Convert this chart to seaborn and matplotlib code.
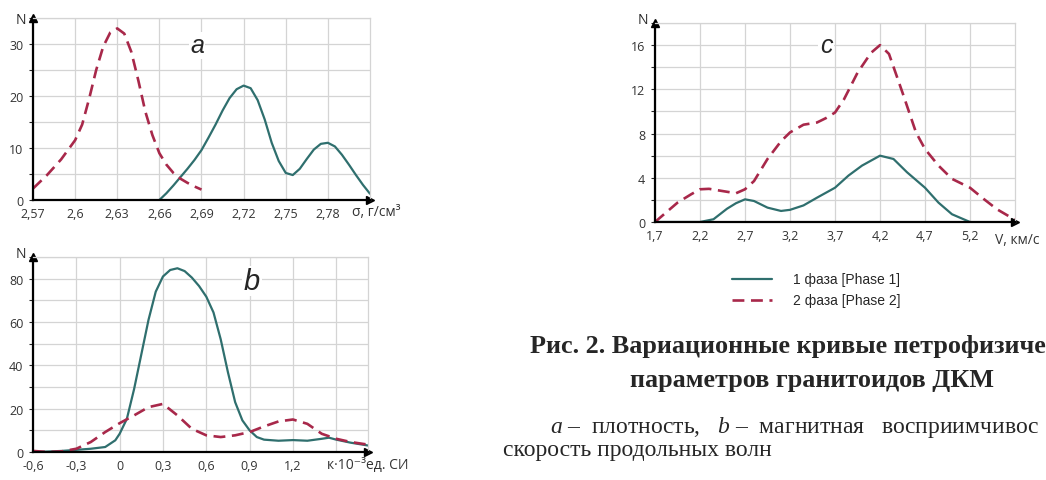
import numpy as np
import matplotlib
matplotlib.use("Agg")
import matplotlib.pyplot as plt
import seaborn as sns

# --- панель a: плотность ---
a_x1 = [2.660, 2.665, 2.670, 2.675, 2.680, 2.685, 2.690, 2.695, 2.700, 2.705, 2.710,
        2.715, 2.720, 2.725, 2.730, 2.735, 2.740, 2.745, 2.750, 2.755, 2.760, 2.765,
        2.770, 2.775, 2.780, 2.785, 2.790, 2.795, 2.800, 2.805, 2.810]
a_y1 = [0.0, 1.3, 2.8, 4.4, 6.0, 7.7, 9.6, 12.0, 14.5, 17.2, 19.6,
        21.3, 22.0, 21.5, 19.2, 15.5, 11.0, 7.5, 5.2, 4.8, 6.0, 7.9,
        9.7, 10.8, 11.0, 10.3, 8.7, 6.8, 4.8, 2.9, 1.2]
a_x2 = [2.570, 2.580, 2.590, 2.600, 2.605, 2.610, 2.615, 2.620, 2.625, 2.630, 2.635,
        2.640, 2.645, 2.650, 2.655, 2.660, 2.665, 2.670, 2.675, 2.680, 2.685, 2.690]
a_y2 = [2.2, 4.8, 7.8, 11.5, 14.5, 19.5, 25.0, 29.5, 32.2, 33.0, 32.0,
        28.5, 23.0, 17.0, 12.5, 9.0, 6.8, 5.2, 4.1, 3.3, 2.6, 2.0]
a_xticks = [2.57, 2.60, 2.63, 2.66, 2.69, 2.72, 2.75, 2.78]
a_xlabels = ["2,57", "2,6", "2,63", "2,66", "2,69", "2,72", "2,75", "2,78"]
a_yticks = [0, 10, 20, 30]

# --- панель b: магнитная восприимчивость ---
b_x1 = [-0.6, -0.5, -0.4, -0.3, -0.2, -0.1, -0.03, 0.0, 0.05, 0.1, 0.15, 0.2, 0.25,
        0.3, 0.35, 0.4, 0.45, 0.5, 0.55, 0.6, 0.65, 0.7, 0.75, 0.8, 0.85, 0.9,
        0.95, 1.0, 1.1, 1.2, 1.3, 1.4, 1.45, 1.5, 1.6, 1.72]
b_y1 = [0.0, 0.2, 0.5, 1.0, 1.5, 2.3, 5.4, 8.4, 15.3, 29.0, 45.0, 61.0, 74.0,
        81.0, 84.0, 84.8, 83.5, 80.5, 76.6, 71.7, 64.4, 52.0, 36.8, 23.0, 14.6, 10.0,
        6.9, 5.7, 5.2, 5.5, 5.2, 6.1, 6.6, 5.7, 4.3, 3.0]
b_x2 = [-0.6, -0.5, -0.4, -0.3, -0.2, -0.1, 0.0, 0.1, 0.2, 0.3, 0.4, 0.5, 0.6,
        0.7, 0.8, 0.9, 1.0, 1.1, 1.2, 1.3, 1.4, 1.5, 1.6, 1.72]
b_y2 = [0.5, 0.0, 0.3, 1.5, 4.6, 9.2, 13.3, 16.9, 20.7, 22.2, 16.9, 10.7, 7.7,
        6.9, 7.7, 9.2, 11.8, 14.1, 15.0, 13.0, 8.4, 6.1, 4.6, 3.4]
b_xticks = [-0.6, -0.3, 0.0, 0.3, 0.6, 0.9, 1.2, 1.5]
b_xlabels = ["-0,6", "-0,3", "0", "0,3", "0,6", "0,9", "1,2", ""]
b_yticks = [0, 20, 40, 60, 80]

# --- панель c: скорость продольных волн ---
c_x1 = [1.7, 2.2, 2.35, 2.5, 2.6, 2.7, 2.8, 2.95, 3.1, 3.2, 3.35, 3.5, 3.7,
        3.85, 4.0, 4.2, 4.35, 4.5, 4.7, 4.85, 5.0, 5.2]
c_y1 = [0.0, 0.0, 0.25, 1.2, 1.7, 2.05, 1.9, 1.3, 1.0, 1.1, 1.5, 2.2, 3.1,
        4.2, 5.1, 6.0, 5.7, 4.5, 3.1, 1.75, 0.7, 0.0]
c_x2 = [1.7, 1.95, 2.1, 2.2, 2.3, 2.45, 2.6, 2.7, 2.8, 2.95, 3.1, 3.2, 3.35, 3.5,
        3.6, 3.7, 3.8, 3.95, 4.1, 4.2, 4.3, 4.45, 4.6, 4.7, 4.85, 5.0, 5.2, 5.35,
        5.5, 5.7]
c_y2 = [0.0, 1.75, 2.5, 2.96, 3.0, 2.8, 2.6, 2.96, 3.7, 5.7, 7.3, 8.1, 8.8, 9.0,
        9.4, 9.9, 11.1, 13.5, 15.3, 16.0, 15.2, 11.7, 8.1, 6.6, 5.1, 3.9, 3.1, 2.1,
        1.15, 0.2]
c_xticks = [1.7, 2.2, 2.7, 3.2, 3.7, 4.2, 4.7, 5.2]
c_xlabels = ["1,7", "2,2", "2,7", "3,2", "3,7", "4,2", "4,7", "5,2"]
c_yticks = [0, 4, 8, 12, 16]

legend_labels = ["1 фаза [Phase 1]", "2 фаза [Phase 2]"]

TEAL = "#2f6f6e"
RED = "#a8284a"
GRID = "#d4d4d4"
W, H = 1046, 481

sns.set_style("white")
plt.rcParams["font.family"] = ["Open Sans", "DejaVu Sans"]
plt.rcParams["mathtext.fontset"] = "custom"
plt.rcParams["mathtext.rm"] = "Liberation Serif"
plt.rcParams["mathtext.it"] = "Liberation Serif:italic"

fig = plt.figure(figsize=(W / 100, H / 100), dpi=100)


def px_axes(left, top, right, bottom):
    return fig.add_axes([left / W, 1 - bottom / H, (right - left) / W, (bottom - top) / H])


def fxy(x, y):
    return x / W, 1 - y / H


def style_axes(ax, xlim, ylim, xticks, xlabels, yticks, ygrid):
    ax.set_xlim(*xlim)
    ax.set_ylim(*ylim)
    ax.set_xticks(xticks)
    ax.set_xticklabels(xlabels)
    ax.set_yticks(yticks)
    ax.set_yticks(ygrid, minor=True)
    ax.grid(True, which="both", color=GRID, lw=0.9)
    ax.set_axisbelow(True)
    for s in ["top", "right"]:
        ax.spines[s].set_color(GRID)
        ax.spines[s].set_linewidth(0.9)
    for s in ["left", "bottom"]:
        ax.spines[s].set_color("black")
        ax.spines[s].set_linewidth(1.6)
    ax.tick_params(axis="x", length=0, pad=5, labelsize=9, labelcolor="#333333")
    ax.tick_params(axis="y", which="both", length=3, width=0.8, pad=4,
                   labelsize=9, labelcolor="#333333", left=True)
    ax.set_xlabel("")
    ax.set_ylabel("")
    # стрелки осей
    ax.plot(1.0, 0, ">", color="black", ms=6, transform=ax.transAxes, clip_on=False)
    ax.plot(0, 1.0, "^", color="black", ms=6, transform=ax.transAxes, clip_on=False)


def draw(ax, x1, y1, x2, y2):
    sns.lineplot(x=x1, y=y1, ax=ax, color=TEAL, lw=1.6, label=legend_labels[0], legend=False)
    sns.lineplot(x=x2, y=y2, ax=ax, color=RED, lw=1.9, linestyle=(0, (4.5, 2.5)),
                 label=legend_labels[1], legend=False)


# a
ax_a = px_axes(33, 19, 370, 201)
draw(ax_a, a_x1, a_y1, a_x2, a_y2)
style_axes(ax_a, (2.57, 2.81), (0, 35), a_xticks, a_xlabels, a_yticks, np.arange(0, 36, 5))

# b
ax_b = px_axes(33, 258, 368, 453)
draw(ax_b, b_x1, b_y1, b_x2, b_y2)
style_axes(ax_b, (-0.6, 1.72), (0, 90), b_xticks, b_xlabels, b_yticks, np.arange(0, 91, 10))

# c
ax_c = px_axes(655, 24, 1015, 223)
draw(ax_c, c_x1, c_y1, c_x2, c_y2)
style_axes(ax_c, (1.7, 5.7), (0, 18), c_xticks, c_xlabels, c_yticks, np.arange(0, 19, 2))

# подписи осей
for x, y in [(21, 20), (21, 255), (643, 20)]:
    fig.text(*fxy(x, y), "N", ha="center", va="center", fontsize=10)
fig.text(*fxy(352, 213), "σ, г/см³", ha="left", va="center", fontsize=10, color="#333333")
fig.text(*fxy(327, 466), "к·10⁻³ед. СИ", ha="left", va="center", fontsize=10, color="#333333")
fig.text(*fxy(995, 241), "V, км/с", ha="left", va="center", fontsize=10, color="#333333")

letter_kw = dict(ha="center", va="center", style="italic", family=["Liberation Sans"],
                 bbox=dict(facecolor="white", edgecolor="none", pad=1))
fig.text(*fxy(197, 46), "a", fontsize=18, **letter_kw)
fig.text(*fxy(252, 282), "b", fontsize=21, **letter_kw)
fig.text(*fxy(826, 46), "c", fontsize=18, **letter_kw)

# легенда
handles = ax_c.get_lines()[:2]
fig.legend(handles, legend_labels, loc="upper left", bbox_to_anchor=fxy(719, 261),
           frameon=False, handlelength=2.9, handletextpad=1.5,
           labelspacing=0.5, prop={"family": ["Liberation Sans"], "size": 10})

# подпись рисунка
serif = ["Liberation Serif", "DejaVu Serif"]
fig.text(*fxy(530, 347), "Рис. 2. Вариационные кривые петрофизиче", ha="left", va="center",
         fontsize=18.8, fontweight="bold", family=serif)
fig.text(*fxy(630, 381), "параметров гранитоидов ДКМ", ha="left", va="center",
         fontsize=18.8, fontweight="bold", family=serif)
fig.text(*fxy(550, 428), "$a$ –  плотность,   $b$ –  магнитная   восприимчивос", ha="left",
         va="center", fontsize=17, family=serif)
fig.text(*fxy(503, 451), "скорость продольных волн", ha="left", va="center",
         fontsize=17, family=serif)

fig.savefig("out.png", dpi=100)
